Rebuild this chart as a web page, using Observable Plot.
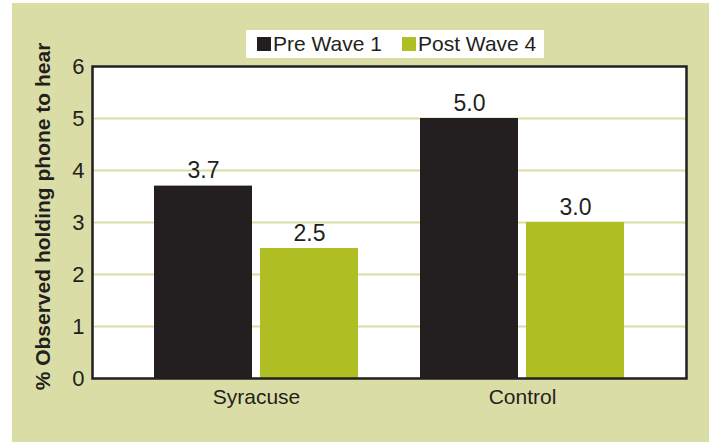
<!DOCTYPE html>
<html><head><meta charset="utf-8">
<script src="https://cdn.jsdelivr.net/npm/d3@7"></script>
<script src="https://cdn.jsdelivr.net/npm/@observablehq/plot@0.6"></script>
<style>
body{margin:0;background:#fff;font-family:"Liberation Sans",Arial,sans-serif;color:#231f20;}
#chart{position:absolute;left:12px;top:3px;width:697px;height:439px;background:#dadea6;overflow:hidden;}
#legend{position:absolute;left:234px;top:27px;width:298px;height:28px;background:#fff;font-size:21px;line-height:28px;}
#legend .item{position:absolute;top:0;display:flex;align-items:center;height:28px;}
#legend .sw{display:inline-block;width:14px;height:14px;margin-right:2px;}
#plot{position:absolute;left:0;top:55px;}
#plot svg{overflow:visible;}
</style>
</head><body>
<div id="chart">
  <div id="legend"></div>
  <div id="plot"></div>
</div>
<script>
const groups = ["Syracuse", "Control"];
const seriesNames = ["Pre Wave 1", "Post Wave 4"];
const preWave1 = [3.7, 5.0];
const postWave4 = [2.5, 3.0];
const yTicks = [0, 1, 2, 3, 4, 5, 6];
const colors = ["#231f20", "#afbe22"];
const yTitle = "% Observed holding phone to hear";

const pre = groups.map((g, i) => ({group: g, series: seriesNames[0], value: preWave1[i]}));
const post = groups.map((g, i) => ({group: g, series: seriesNames[1], value: postWave4[i]}));

// legend
const legend = document.getElementById("legend");
const legendLeft = [11, 156];
seriesNames.forEach((s, i) => {
  const it = document.createElement("div");
  it.className = "item";
  it.style.left = legendLeft[i] + "px";
  it.innerHTML = `<span class="sw" style="background:${colors[i]}"></span><span>${s}</span>`;
  legend.appendChild(it);
});

const font = "'Liberation Sans', Arial, sans-serif";
const chart = Plot.plot({
  width: 697,
  height: 372,
  marginLeft: 80,
  marginRight: 23,
  marginTop: 8,
  marginBottom: 52,
  style: {fontFamily: font, background: "transparent", color: "#231f20", overflow: "visible"},
  x: {domain: groups, paddingInner: 0.2345, paddingOuter: 0.2317},
  y: {domain: [0, 6]},
  marks: [
    Plot.frame({fill: "white"}),
    Plot.ruleY(yTicks.filter(d => d > 0 && d < 6), {stroke: "#d9dda3", strokeWidth: 2}),
    Plot.barY(pre, {x: "group", y: "value", fill: colors[0], insetRight: 106}),
    Plot.barY(post, {x: "group", y: "value", fill: colors[1], insetLeft: 106}),
    Plot.text(pre, {x: "group", y: "value", text: d => d.value.toFixed(1), dx: -53, dy: -8, lineAnchor: "bottom", fontSize: 23, fill: "#231f20"}),
    Plot.text(post, {x: "group", y: "value", text: d => d.value.toFixed(1), dx: 53, dy: -8, lineAnchor: "bottom", fontSize: 23, fill: "#231f20"}),
    Plot.frame({stroke: "#231f20", strokeWidth: 2.5}),
    Plot.axisY(yTicks, {tickSize: 0, tickPadding: 8, fontSize: 22, label: null, tickFormat: d => String(d), color: "#231f20"}),
    Plot.axisX({tickSize: 0, tickPadding: 11, fontSize: 21, label: null, color: "#231f20"}),
    Plot.text([yTitle], {frameAnchor: "left", textAnchor: "middle", rotate: -90, dx: -49, dy: -6, fontWeight: "bold", fontSize: 21, fill: "#231f20"})
  ]
});
document.getElementById("plot").appendChild(chart);
</script>
</body></html>
